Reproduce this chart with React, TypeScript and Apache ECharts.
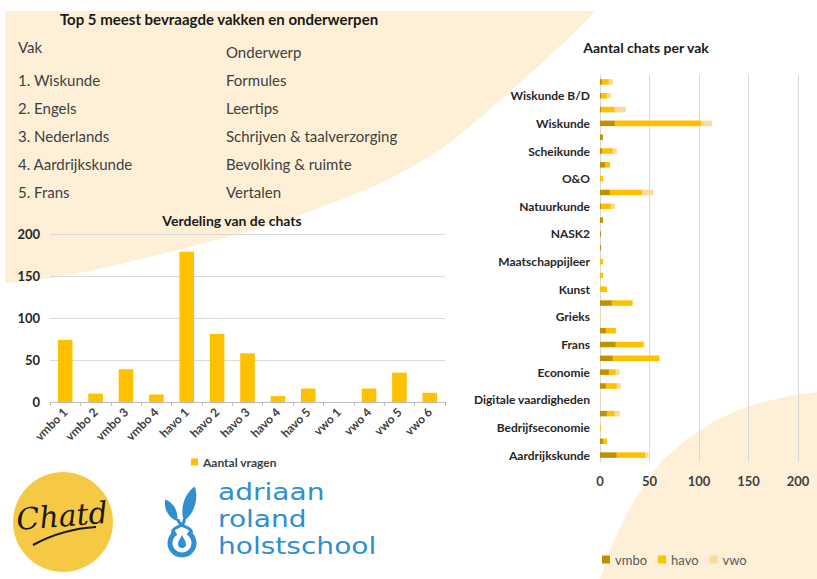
import React, { useEffect, useRef } from "react";
import * as echarts from "echarts";

// ---------- data ----------
const levelCategories = ["vmbo 1", "vmbo 2", "vmbo 3", "vmbo 4", "havo 1", "havo 2", "havo 3", "havo 4", "havo 5", "vwo 1", "vwo 4", "vwo 5", "vwo 6"];
const levelCounts = [74, 10, 39, 9, 179, 81, 58, 7, 16, 0, 16, 35, 11];

// bottom to top (first category drawn at the bottom)
const subjects = [
  "Aardrijkskunde", "Algemeen", "Bedrijfseconomie", "Biologie", "Digitale vaardigheden", "Duits",
  "Economie", "Engels", "Frans", "Geschiedenis", "Grieks", "Informatica", "Kunst", "Latijn",
  "Maatschappijleer", "NASK1", "NASK2", "Natuur & techniek", "Natuurkunde", "Nederlands", "O&O",
  "Overig", "Scheikunde", "Spaans", "Wiskunde", "Wiskunde A/C", "Wiskunde B/D", "Zorg & welzijn",
];
const vmboChats = [17, 3, 0, 7, 0, 6, 9, 13, 16, 6, 0, 12, 0, 0, 0, 1, 1, 3, 1, 10, 0, 5, 2, 3, 15, 1, 1, 2];
const havoChats = [29, 4, 1, 8, 0, 11, 7, 47, 28, 10, 0, 21, 7, 3, 3, 0, 0, 0, 10, 33, 3, 5, 11, 0, 87, 14, 6, 7];
const vwoChats = [3, 0, 0, 5, 1, 4, 4, 0, 1, 0, 1, 0, 0, 0, 0, 0, 0, 0, 4, 11, 0, 0, 4, 0, 11, 11, 4, 4];

const topTitle = "Top 5 meest bevraagde vakken en onderwerpen";
const vakHeader = "Vak";
const onderwerpHeader = "Onderwerp";
const topSubjects = ["1. Wiskunde", "2. Engels", "3. Nederlands", "4. Aardrijkskunde", "5. Frans"];
const topTopics = ["Formules", "Leertips", "Schrijven & taalverzorging", "Bevolking & ruimte", "Vertalen"];
const schoolLines = ["adriaan", "roland", "holstschool"];

const FONT = "Lato, 'Open Sans', sans-serif";
const CREAM = "#fdf0d6";
const BLUE = "#2f8fcf";

let shapesRegistered = false;
function registerShapes() {
  if (shapesRegistered) return;
  shapesRegistered = true;
  echarts.graphic.registerShape(
    "leaf",
    echarts.graphic.extendPath("M0,0 C-7,-10 -7,-26 0,-36 C7,-26 7,-10 0,0 Z", {})
  );
  echarts.graphic.registerShape(
    "drop",
    echarts.graphic.extendPath("M0,-7 C1.5,-3.5 4,-1 4,2 A4,4 0 1 1 -4,2 C-4,-1 -1.5,-3.5 0,-7 Z", {})
  );
}

export default function App() {
  const ref = useRef<HTMLDivElement>(null);

  useEffect(() => {
    document.body.style.margin = "0";
    registerShapes();
    const chart = echarts.init(ref.current!, undefined, { renderer: "svg" });

    const txt = (text: string, x: number, y: number, o: any = {}) => ({
      type: "text",
      x,
      y,
      z: 5,
      scaleX: o.scaleX || 1,
      style: {
        text,
        fill: o.fill || "#404040",
        fontSize: o.fontSize || 15,
        fontWeight: o.fontWeight || "normal",
        fontFamily: o.fontFamily || FONT,
        fontStyle: o.fontStyle || "normal",
        textAlign: o.align || "left",
        textVerticalAlign: "middle",
      },
      rotation: o.rotation || 0,
    });

    const rowYs = [80, 108, 136, 164, 192];

    const graphic: any[] = [
      // background blobs
      {
        type: "polygon",
        z: -10,
        shape: {
          points: [
            [5, 11], [595, 11], [572, 35], [545, 60], [505, 96], [466, 130], [440, 150], [410, 168],
            [375, 186], [340, 200], [295, 217], [250, 231], [205, 243], [166, 253], [125, 263],
            [85, 272], [45, 279], [5, 283],
          ],
        },
        style: { fill: CREAM },
      },
      {
        type: "polygon",
        z: -10,
        shape: {
          points: [
            [817, 392], [790, 396], [763, 402], [738, 410], [713, 422], [688, 438], [663, 460],
            [645, 483], [630, 508], [617, 534], [607, 558], [600, 579], [817, 579],
          ],
        },
        style: { fill: CREAM },
      },
      // top-5 table
      txt(topTitle, 219, 19, { fontWeight: "bold", align: "center", fill: "#1a1a1a", fontSize: 15 }),
      txt(vakHeader, 18, 47),
      txt(onderwerpHeader, 226, 52),
      ...topSubjects.map((s, i) => txt(s, 18, rowYs[i])),
      ...topTopics.map((s, i) => txt(s, 226, rowYs[i])),
      // chart titles
      txt("Verdeling van de chats", 232, 220, { fontWeight: "bold", align: "center", fill: "#1a1a1a", fontSize: 14 }),
      txt("Aantal chats per vak", 646, 47, { fontWeight: "bold", align: "center", fill: "#1a1a1a", fontSize: 14 }),
      // Chatd logo
      { type: "circle", z: 3, shape: { cx: 63, cy: 522, r: 50 }, style: { fill: "#f6c945" } },
      txt("Chatd", 62, 516, { fontFamily: "'DejaVu Serif', serif", fontStyle: "italic", fontSize: 30, fill: "#1a1a1a", align: "center", rotation: 0.08 }),
      {
        type: "bezierCurve",
        z: 6,
        shape: { x1: 33, y1: 545, cpx1: 55, cpy1: 533, cpx2: 78, cpy2: 528, x2: 96, y2: 527 },
        style: { stroke: "#1a1a1a", lineWidth: 2.2, fill: null },
      },
      // school logo icon
      {
        type: "arc",
        z: 5,
        shape: { cx: 182, cy: 543, r: 12, startAngle: -1.05, endAngle: Math.PI + 1.05, clockwise: true },
        style: { stroke: BLUE, lineWidth: 5, fill: null },
      },
      { type: "drop", z: 5, x: 182, y: 542, style: { fill: BLUE } },
      {
        type: "bezierCurve",
        z: 5,
        shape: { x1: 173, y1: 534, cpx1: 170, cpy1: 526, cpx2: 186, cpy2: 528, x2: 184, y2: 519 },
        style: { stroke: BLUE, lineWidth: 3, fill: null },
      },
      {
        type: "bezierCurve",
        z: 5,
        shape: { x1: 191, y1: 534, cpx1: 194, cpy1: 526, cpx2: 178, cpy2: 528, x2: 178, y2: 519 },
        style: { stroke: BLUE, lineWidth: 3, fill: null },
      },
      { type: "leaf", z: 5, x: 184, y: 521, rotation: -0.3, scaleX: 1.1, scaleY: 1.0, style: { fill: BLUE } },
      { type: "leaf", z: 5, x: 177, y: 521, rotation: 0.5, scaleX: 0.85, scaleY: 0.68, style: { fill: BLUE } },
      ...schoolLines.map((s, i) =>
        txt(s, 218, [492, 519, 546][i], { fontFamily: "'DejaVu Sans', sans-serif", fontSize: 23, scaleX: 1.22, fill: BLUE })
      ),
    ];

    const option: any = {
      animation: false,
      textStyle: { fontFamily: FONT },
      graphic,
      grid: [
        { left: 50, top: 234, width: 395, height: 168 },
        { left: 600, top: 75, width: 198, height: 387 },
      ],
      legend: [
        {
          data: ["Aantal vragen"],
          left: 186,
          top: 451,
          icon: "rect",
          itemWidth: 7,
          itemHeight: 7,
          itemGap: 6,
          textStyle: { fontFamily: FONT, fontWeight: "bold", fontSize: 12, color: "#404040" },
        },
        {
          data: ["vmbo", "havo", "vwo"],
          left: 597,
          top: 548,
          icon: "rect",
          itemWidth: 8,
          itemHeight: 8,
          itemGap: 11,
          textStyle: { fontFamily: FONT, fontSize: 13, color: "#595959" },
        },
      ],
      xAxis: [
        {
          type: "category",
          gridIndex: 0,
          data: levelCategories,
          axisLine: { lineStyle: { color: "#bfbfbf" } },
          axisTick: { show: true, length: 4, lineStyle: { color: "#bfbfbf" } },
          axisLabel: { rotate: 45, interval: 0, margin: 8, fontFamily: FONT, fontWeight: "bold", fontSize: 12, color: "#404040" },
        },
        {
          type: "value",
          gridIndex: 1,
          min: 0,
          max: 200,
          interval: 50,
          axisLine: { show: false },
          axisTick: { show: false },
          splitLine: { lineStyle: { color: "#d9d9d9" } },
          axisLabel: { margin: 12, fontFamily: FONT, fontWeight: "bold", fontSize: 13, color: "#404040" },
        },
      ],
      yAxis: [
        {
          type: "value",
          gridIndex: 0,
          min: 0,
          max: 200,
          interval: 50,
          axisLine: { show: false },
          axisTick: { show: false },
          splitLine: { lineStyle: { color: "#d9d9d9" } },
          axisLabel: { margin: 10, fontFamily: FONT, fontWeight: "bold", fontSize: 13, color: "#262626" },
        },
        {
          type: "category",
          gridIndex: 1,
          data: subjects,
          axisLine: { show: true, lineStyle: { color: "#d9d9d9" } },
          axisTick: { show: false },
          axisLabel: { interval: 1, margin: 10, fontFamily: FONT, fontWeight: "bold", fontSize: 12, color: "#262626" },
        },
      ],
      series: [
        {
          name: "Aantal vragen",
          type: "bar",
          xAxisIndex: 0,
          yAxisIndex: 0,
          data: levelCounts,
          barWidth: "48%",
          itemStyle: { color: "#ffc000" },
        },
        {
          name: "vmbo",
          type: "bar",
          stack: "vak",
          xAxisIndex: 1,
          yAxisIndex: 1,
          data: vmboChats,
          barWidth: "40%",
          itemStyle: { color: "#bf9000" },
        },
        {
          name: "havo",
          type: "bar",
          stack: "vak",
          xAxisIndex: 1,
          yAxisIndex: 1,
          data: havoChats,
          barWidth: "40%",
          itemStyle: { color: "#ffc000" },
        },
        {
          name: "vwo",
          type: "bar",
          stack: "vak",
          xAxisIndex: 1,
          yAxisIndex: 1,
          data: vwoChats,
          barWidth: "40%",
          itemStyle: { color: "#fbd99c" },
        },
      ],
    };

    chart.setOption(option);
    return () => chart.dispose();
  }, []);

  return <div ref={ref} style={{ width: 817, height: 579, background: "#ffffff" }} />;
}
